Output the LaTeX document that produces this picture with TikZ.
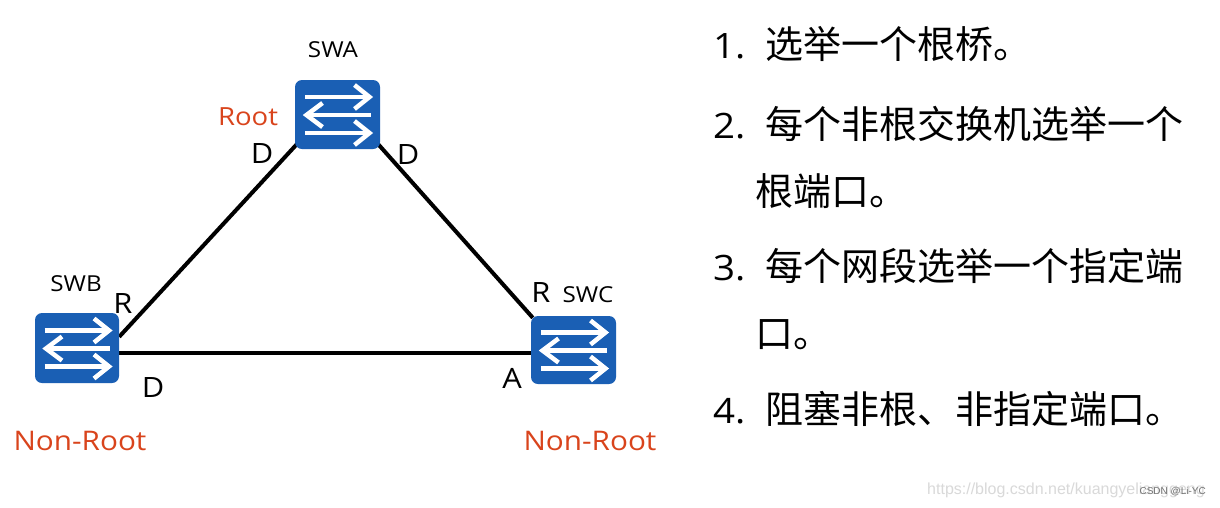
\documentclass[tikz,border=0pt]{standalone}
\usepackage{fontspec}
\setmainfont{Open Sans}[FakeStretch=1.1]
\newfontfamily\cjk{Noto Sans CJK SC}
\newfontfamily\wmfont{Liberation Sans}
\usetikzlibrary{calc,backgrounds}
\definecolor{swblue}{HTML}{1A5FB4}
\definecolor{rootred}{HTML}{D9441C}
\tikzset{
  x=1pt, y=-1pt,
  switchbox/.style={fill=swblue, draw=none, rounded corners=7pt,
    minimum width=85pt, minimum height=69pt, inner sep=0pt,
    path picture={
      \coordinate (pc) at (path picture bounding box.center);
      \begin{scope}[sharp corners, draw=white, line width=4.5pt, line cap=butt, line join=miter]
        \draw[white] ($(pc)+(-32.5,-17.5)$) -- ($(pc)+(31,-17.5)$);
        \draw[white] ($(pc)+(17,-29.5)$) -- ($(pc)+(32,-17.5)$) -- ($(pc)+(17,-5.5)$);
        \draw[white] ($(pc)+(-30,0.5)$) -- ($(pc)+(33,0.5)$);
        \draw[white] ($(pc)+(-15,-11.5)$) -- ($(pc)+(-31,0.5)$) -- ($(pc)+(-15,12.5)$);
        \draw[white] ($(pc)+(-32.5,18.5)$) -- ($(pc)+(31,18.5)$);
        \draw[white] ($(pc)+(17,6.5)$) -- ($(pc)+(32,18.5)$) -- ($(pc)+(17,30.5)$);
      \end{scope}
    }},
  link/.style={draw=black, line width=4pt},
  port/.style={inner sep=0pt, anchor=base, font=\fontsize{28}{30}\selectfont},
  swname/.style={inner sep=0pt, anchor=base, font=\fontsize{22}{24}\selectfont},
  role/.style={inner sep=0pt, anchor=base, text=rootred},
  num/.style={inner sep=0pt, anchor=base west, font=\fontsize{35}{40}\selectfont},
  cn/.style={inner sep=0pt, anchor=base west, font=\cjk\fontsize{38}{44}\selectfont},
}
\begin{document}
\begin{tikzpicture}
\useasboundingbox (0,0) rectangle (1220,507);

% switches
\node[switchbox] (swa) at (337.5,114.5) {};
\node[switchbox, minimum width=84pt, minimum height=70pt] (swb) at (77,348) {};
\node[switchbox, minimum height=68pt] (swc) at (573.5,350) {};

% links
\begin{scope}[on background layer]
\fill[white] (0,0) rectangle (1220,507);
\draw[link] ($(swa.south west)+(2,-5)$) -- ($(swb.north east)+(0,24)$);
\draw[link] ($(swa.south east)+(-2,-5)$) -- ($(swc.north west)+(2,2)$);
\draw[link] ($(swb.east)+(0,5)$) -- ($(swc.west)+(0,3)$);
\end{scope}

% switch names
\node[swname] (nswa) at (333,57) {SWA};
\node[swname] (nswb) at (76,291) {SWB};
\node[swname] (nswc) at (588,302) {SWC};

% roles
\node[role, font=\fontsize{25}{28}\selectfont] (rroot) at (248,125) {Root};
\node[role, font=\fontsize{27}{30}\selectfont] (rnb) at (80,450) {Non-Root};
\node[role, font=\fontsize{27}{30}\selectfont] (rnc) at (590,450) {Non-Root};

% port labels
\node[port] (pad1) at (262,163) {D};
\node[port] (pad2) at (408,164) {D};
\node[port] (pbr) at (123,313) {R};
\node[port] (pbd) at (153,397) {D};
\node[port] (pcr) at (541,302) {R};
\node[port] (pca) at (512,388) {A};

% list
\node[num] (n1) at (713,58) {1.};
\node[cn] (t1) at (765,58) {选举一个根桥。};
\node[num] (n2) at (713,138) {2.};
\node[cn] (t2) at (765,138) {每个非根交换机选举一个};
\node[cn] (t2b) at (755,205) {根端口。};
\node[num] (n3) at (713,280) {3.};
\node[cn] (t3) at (765,280) {每个网段选举一个指定端};
\node[cn] (t3b) at (755,347) {口。};
\node[num] (n4) at (713,423) {4.};
\node[cn] (t4) at (765,423) {阻塞非根、非指定端口。};

% watermark
\node[inner sep=0pt, anchor=base west, text=black!15, font=\wmfont\fontsize{16}{18}\selectfont] (wm) at (927,494) {https://blog.csdn.net/kuangyelianggeng};
\node[inner sep=0pt, anchor=base east, text=black!55, font=\wmfont\fontsize{10}{12}\selectfont] (wm2) at (1206,494) {CSDN @Li-YC};
\end{tikzpicture}
\end{document}
